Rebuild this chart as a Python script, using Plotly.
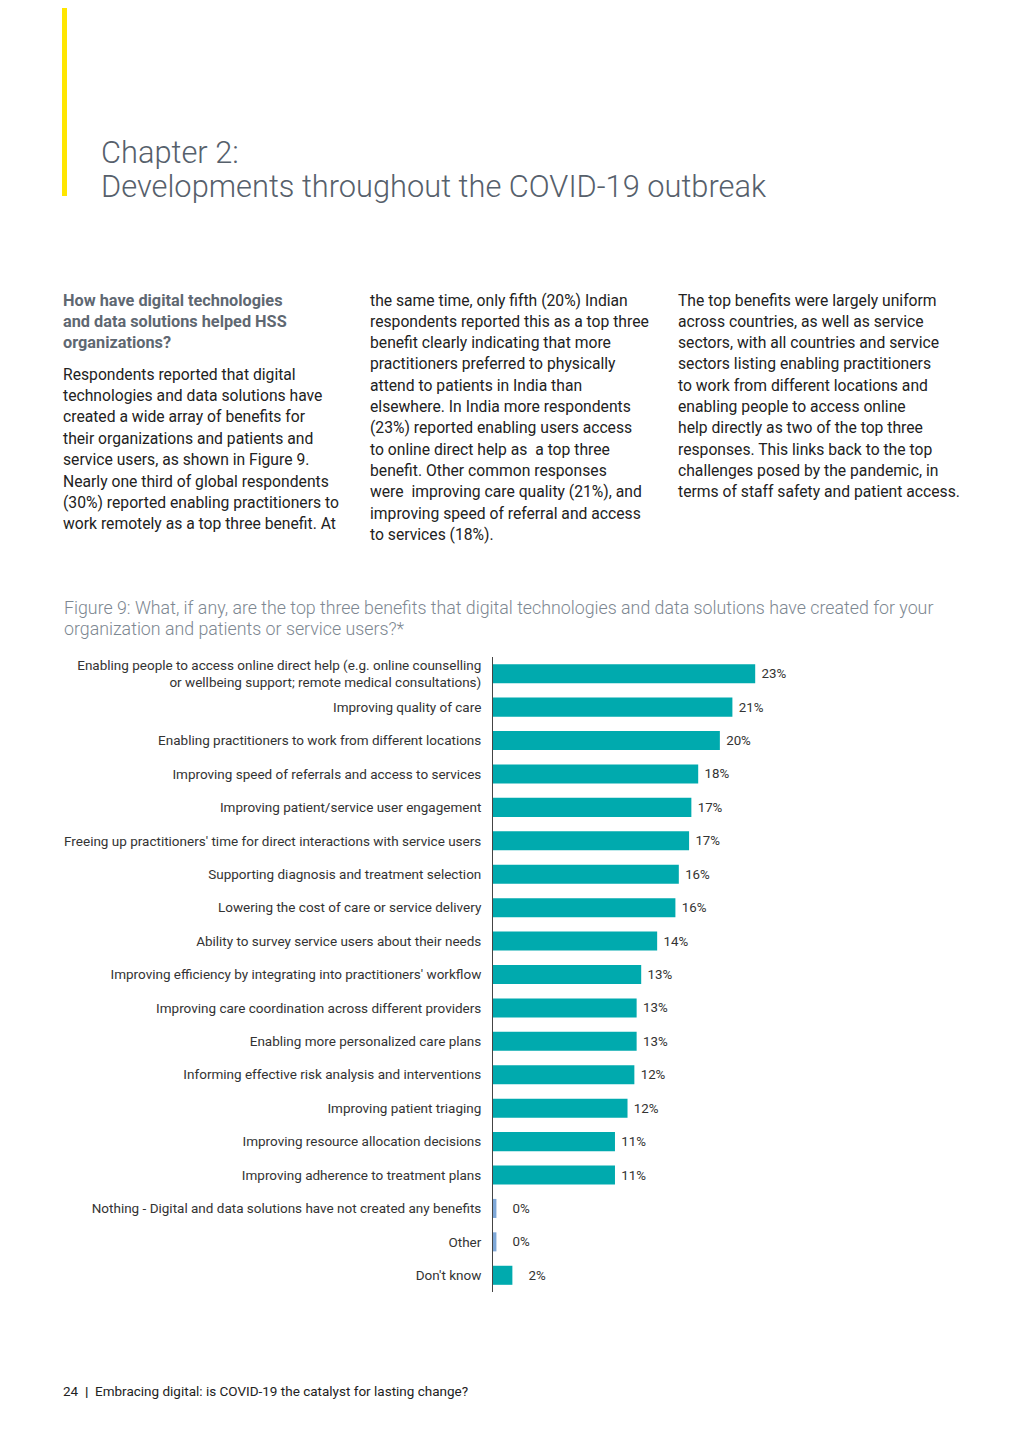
import plotly.graph_objects as go

# ---------------- data ----------------
categories = [
    "Enabling people to access online direct help (e.g. online counselling<br>or wellbeing support; remote medical consultations)",
    "Improving quality of care",
    "Enabling practitioners to work from different locations",
    "Improving speed of referrals and access to services",
    "Improving patient/service user engagement",
    "Freeing up practitioners' time for direct interactions with service users",
    "Supporting diagnosis and treatment selection",
    "Lowering the cost of care or service delivery",
    "Ability to survey service users about their needs",
    "Improving efficiency by integrating into practitioners' workflow",
    "Improving care coordination across different providers",
    "Enabling more personalized care plans",
    "Informing effective risk analysis and interventions",
    "Improving patient triaging",
    "Improving resource allocation decisions",
    "Improving adherence to treatment plans",
    "Nothing - Digital and data solutions have not created any benefits",
    "Other",
    "Don't know",
]
values = [23.0, 21.0, 19.9, 18.0, 17.4, 17.2, 16.3, 16.0, 14.4, 13.0, 12.6, 12.6,
          12.4, 11.8, 10.7, 10.7, 0.3, 0.3, 1.7]
value_labels = ["23%", "21%", "20%", "18%", "17%", "17%", "16%", "16%", "14%", "13%",
                "13%", "13%", "12%", "12%", "11%", "11%", "0%", "0%", "2%"]

chapter_title = ["Chapter 2:", "Developments throughout the COVID-19 outbreak"]
subheading = ["How have digital technologies", "and data solutions helped HSS", "organizations?"]
col1 = [
    "Respondents reported that digital",
    "technologies and data solutions have",
    "created a wide array of benefits for",
    "their organizations and patients and",
    "service users, as shown in Figure 9.",
    "Nearly one third of global respondents",
    "(30%) reported enabling practitioners to",
    "work remotely as a top three benefit. At",
]
col2 = [
    "the same time, only fifth (20%) Indian",
    "respondents reported this as a top three",
    "benefit clearly indicating that more",
    "practitioners preferred to physically",
    "attend to patients in India than",
    "elsewhere. In India more respondents",
    "(23%) reported enabling users access",
    "to online direct help as  a top three",
    "benefit. Other common responses",
    "were  improving care quality (21%), and",
    "improving speed of referral and access",
    "to services (18%).",
]
col3 = [
    "The top benefits were largely uniform",
    "across countries, as well as service",
    "sectors, with all countries and service",
    "sectors listing enabling practitioners",
    "to work from different locations and",
    "enabling people to access online",
    "help directly as two of the top three",
    "responses. This links back to the top",
    "challenges posed by the pandemic, in",
    "terms of staff safety and patient access.",
]
figure_title = [
    "Figure 9: What, if any, are the top three benefits that digital technologies and data solutions have created for your",
    "organization and patients or service users?*",
]
footer = "24  <b>|</b>  Embracing digital: is COVID-19 the catalyst for lasting change?"

# ---------------- style ----------------
OFF = 8                      # default page margin of the html body
W, H = 1024 - 2 * OFF, 1448 - 2 * OFF
FONT = "Roboto"
TEAL = "#00AAAE"
BLUE = "#7EA8D8"
TEXT = "#222222"


def py(px):
    return 1 - (px - OFF) / H


def px_x(px):
    return (px - OFF) / W


bar_colors = [BLUE if lab == "0%" else TEAL for lab in value_labels]
# small bars carry their labels a little further from the bar end
bar_text = [("\u00a0" * 4 if v < 5 else "\u00a0") + t for v, t in zip(values, value_labels)]

fig = go.Figure()
fig.add_trace(go.Bar(
    y=categories,
    x=values,
    orientation="h",
    marker=dict(color=bar_colors, line=dict(width=0)),
    width=0.57,
    text=bar_text,
    textposition="outside",
    cliponaxis=False,
    textfont=dict(family=FONT, size=13.3, color="#333333"),
    hoverinfo="skip",
))

fig.update_layout(
    width=W, height=H,
    margin=dict(l=0, r=0, t=0, b=0),
    paper_bgcolor="white",
    plot_bgcolor="white",
    showlegend=False,
    font=dict(family=FONT, color=TEXT),
    xaxis=dict(
        domain=[px_x(493), px_x(949)],
        range=[0, 40],
        visible=False,
        fixedrange=True,
    ),
    yaxis=dict(
        domain=[py(1292), py(657)],
        type="category",
        categoryorder="array",
        categoryarray=categories,
        range=[len(categories) - 0.5, -0.5],
        showline=True,
        linecolor="#444444",
        linewidth=1,
        ticks="",
        showgrid=False,
        zeroline=False,
        ticklabelstandoff=8,
        tickfont=dict(family=FONT, size=13.5, color="#333333"),
    ),
)

annotations = []


def add_lines(lines, x, y0, dy, size, color, weight=400):
    for i, line in enumerate(lines):
        annotations.append(dict(
            text=line, x=px_x(x), y=py(y0 + i * dy), xref="paper", yref="paper",
            xanchor="left", yanchor="middle", showarrow=False,
            font=dict(family=FONT, size=size, color=color, weight=weight),
        ))


add_lines(chapter_title, 99, 152, 34.5, 30.8, "#56606b", weight=300)
add_lines(subheading, 61, 300, 21.2, 16.3, "#5f6872", weight=700)
add_lines(col1, 61, 374, 21.4, 15.7, TEXT)
add_lines(col2, 368, 300, 21.3, 15.7, TEXT)
add_lines(col3, 676, 300, 21.3, 15.7, TEXT)
add_lines(figure_title, 62, 608, 20.5, 17.8, "#7d8791", weight=300)
add_lines([footer], 61, 1391, 0, 13.5, TEXT)

fig.update_layout(annotations=annotations)

fig.add_shape(type="rect", xref="paper", yref="paper",
              x0=px_x(62), x1=px_x(67), y0=py(196), y1=1,
              fillcolor="#FFE600", line=dict(width=0))

fig.write_html("out.html")
